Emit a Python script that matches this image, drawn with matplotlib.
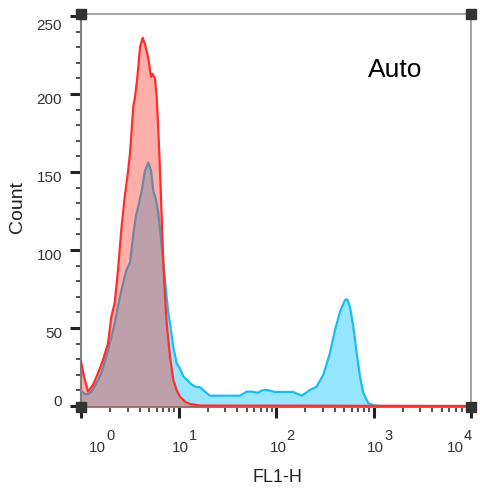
import matplotlib
matplotlib.use("Agg")
import matplotlib.pyplot as plt
from matplotlib.ticker import LogLocator, MultipleLocator, FixedLocator, NullFormatter
from matplotlib.transforms import blended_transform_factory, offset_copy

plt.rcParams['font.family'] = ['Liberation Sans', 'DejaVu Sans']

# FL1-H intensity (x) and event counts for the stained sample (red)
red_fl1 = [1.00, 1.073, 1.180, 1.327, 1.494, 1.681, 1.892, 2.045, 2.216, 2.396,
           2.591, 2.807, 3.034, 3.181, 3.439, 3.580, 3.727, 3.870, 4.028, 4.294,
           4.533, 4.900, 5.224, 5.386, 5.741, 5.976, 6.206, 6.461, 6.725, 6.984,
           7.270, 7.568, 8.182, 8.844, 9.583, 10.36, 11.66, 13.12, 16.62, 10000]
red_count = [28.4, 18.8, 9.2, 13.5, 21, 29.5, 40, 57, 66, 87,
             113, 134, 150, 162, 192, 198, 207, 217, 230, 236,
             232, 223, 211, 213, 210, 198, 177, 151, 121, 92,
             70, 53, 31.6, 16.7, 10, 6, 2.8, 1.3, 0.3, 0]

# FL1-H intensity (x) and event counts for the auto-fluorescence sample (blue)
blue_fl1 = [1.00, 1.073, 1.180, 1.275, 1.435, 1.615, 1.817, 2.045, 2.216, 2.396,
            2.591, 2.915, 3.181, 3.439, 3.666, 3.870, 4.194, 4.533, 4.900, 5.224,
            5.514, 5.878, 6.206, 6.568, 6.984, 7.444, 7.860, 8.182, 8.844, 9.583,
            10.36, 11.20, 12.14, 13.12, 14.77, 16.62, 18.70, 21.04, 42.73, 50.06,
            56.34, 65.38, 71.85, 80.28, 97.66, 149.4, 183.4, 223.2, 261.5, 305.6,
            357.9, 402.8, 453.4, 510.3, 538.8, 574.1, 620.6, 672.6, 727.0, 786.1,
            884.6, 995.2, 1166, 10000]
blue_count = [10, 8, 7.5, 9, 14.5, 21, 31.6, 44, 53, 64,
              74, 87, 92, 110, 122, 128, 138, 151, 156, 151,
              138, 132, 124, 108.5, 92, 74, 59.6, 53, 38, 27.4,
              24, 19, 17, 14.7, 12.4, 12, 9.2, 6.6, 6.6, 9.2,
              9.2, 8.5, 10, 10.3, 9, 9, 6.6, 10.3, 12.4, 20,
              34, 48.7, 60.5, 68, 68.4, 63.6, 50.8, 34, 18.8, 8.3,
              1.9, 0.5, 0, 0]

y_major = [0, 50, 100, 150, 200, 250]
x_major = [1, 10, 100, 1000, 10000]
x_exponents = ['0', '1', '2', '3', '4']

fig = plt.figure(figsize=(4.8, 4.9), dpi=100)
ax = fig.add_axes([81 / 480, 83 / 490, 390 / 480, 393 / 490])

ax.set_xscale('log')
ax.set_xlim(1, 10000)
ax.set_ylim(-0.64, 251.3)

# auto-fluorescence histogram underneath
ax.fill_between(blue_fl1, 0, blue_count, color='#96E6FF', lw=0, zorder=2)
ax.plot(blue_fl1, blue_count, color='#1CBCEF', lw=1.6, zorder=3,
        solid_joinstyle='round')
# stained histogram on top, translucent
ax.fill_between(red_fl1, 0, red_count, color=(1.0, 0.18, 0.12), alpha=0.38,
                lw=0, zorder=4)
ax.plot(red_fl1, red_count, color='#FF2E2E', lw=1.6, zorder=5,
        solid_joinstyle='round')

# frame
for side in ['left', 'bottom']:
    ax.spines[side].set_color('#808080')
    ax.spines[side].set_linewidth(1.5)
for side in ['top', 'right']:
    ax.spines[side].set_color('#8c8c8c')
    ax.spines[side].set_linewidth(1.1)

# ticks
ax.xaxis.set_major_locator(FixedLocator(x_major))
ax.xaxis.set_minor_locator(LogLocator(base=10, subs=range(2, 10), numticks=20))
ax.yaxis.set_major_locator(FixedLocator(y_major))
ax.yaxis.set_minor_locator(MultipleLocator(10))
ax.xaxis.set_major_formatter(NullFormatter())
ax.xaxis.set_minor_formatter(NullFormatter())
ax.yaxis.set_major_formatter(NullFormatter())
ax.tick_params(which='major', direction='out', length=8, width=2.2, color='#222222')
ax.tick_params(which='minor', direction='out', length=3.6, width=1.1, color='#222222')

# y tick labels
ytrans = blended_transform_factory(ax.transAxes, ax.transData)
for v in y_major:
    dy = -6
    if v == y_major[0]:
        dy = 4.5
    elif v == y_major[-1]:
        dy = -9.5
    tr = offset_copy(ytrans, fig=fig, x=-19, y=dy, units='dots')
    ax.text(0, v, str(v), transform=tr, ha='right', va='center',
            fontsize=11, color='#333333')

# x tick labels: "10" with a raised exponent
xtrans = blended_transform_factory(ax.transData, ax.transAxes)
for i, (v, e) in enumerate(zip(x_major, x_exponents)):
    dx = 2
    if i == 0:
        dx = 16.5
    elif i == len(x_major) - 1:
        dx = -15.5
    tr = offset_copy(xtrans, fig=fig, x=dx, y=-45, units='dots')
    ax.text(v, 0, '10', transform=tr, ha='center', va='baseline',
            fontsize=11, color='#333333')
    tr_e = offset_copy(xtrans, fig=fig, x=dx + 8.5, y=-33, units='dots')
    ax.text(v, 0, e, transform=tr_e, ha='left', va='baseline',
            fontsize=10.5, color='#333333')

# corner markers
ax.plot([0, 1, 0, 1], [0, 0, 1, 1], 's', transform=ax.transAxes, clip_on=False,
        ms=7.5, color='#333333', zorder=10)

ax.text(0.806, 0.8397, 'Auto', transform=ax.transAxes, ha='center',
        va='baseline', fontsize=19, color='black')

fig.text(17.5 / 480, 1 - 207 / 490, 'Count', rotation=90, ha='center',
         va='center', fontsize=14, color='#222222')
fig.text(277 / 480, 1 - 477 / 490, 'FL1-H', ha='center', va='center',
         fontsize=13, color='#222222')

fig.savefig('out.png', dpi=100)
